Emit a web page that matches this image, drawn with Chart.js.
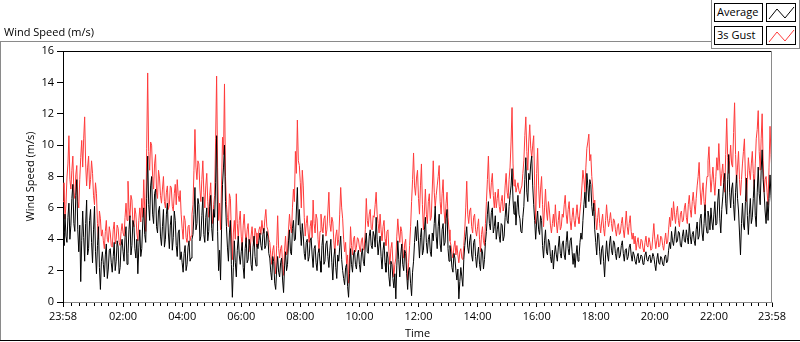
<!DOCTYPE html>
<html>
<head>
<meta charset="utf-8">
<script src="https://cdn.jsdelivr.net/npm/chart.js@4.4.0/dist/chart.umd.min.js"></script>
<style>
html,body{margin:0;padding:0;background:#fff;}
body{width:800px;height:342px;position:relative;overflow:hidden;font-family:"Open Sans",sans-serif;font-size:11px;color:#000;}
#c{position:absolute;left:0;top:0;}
.title{position:absolute;left:4px;top:24px;white-space:nowrap;}
.ln{position:absolute;}
.lgtxt{position:absolute;box-sizing:border-box;border:1px solid #000;background:#fff;height:19px;line-height:16px;padding-left:2px;white-space:nowrap;}
.lgico{position:absolute;box-sizing:border-box;border:1px solid #000;background:#fff;width:30px;height:19px;}
.lgico svg{position:absolute;left:0;top:0;}
</style>
</head>
<body>
<canvas id="c" width="800" height="342"></canvas>
<div class="title">Wind Speed (m/s)</div>
<div class="ln" style="left:0;top:41px;width:712px;height:1px;background:#8a8a8a"></div>
<div class="ln" style="left:0;top:41px;width:1px;height:300px;background:#8a8a8a"></div>
<div class="ln" style="left:0;top:340px;width:800px;height:1px;background:#000"></div>
<div class="ln" style="left:711px;top:0;width:1px;height:49px;background:#8a8a8a"></div>
<div class="ln" style="left:711px;top:48px;width:89px;height:1px;background:#8a8a8a"></div>
<div class="ln" style="left:799px;top:0;width:1px;height:49px;background:#8a8a8a"></div>
<div class="lgtxt" style="left:714px;top:3px;width:49px;">Average</div>
<div class="lgico" style="left:766px;top:3px;"><svg width="30" height="19"><polyline points="2,15 10,5 18,14 27,3" fill="none" stroke="#000" stroke-width="1"/></svg></div>
<div class="lgtxt" style="left:714px;top:26px;width:49px;">3s Gust</div>
<div class="lgico" style="left:766px;top:26px;"><svg width="30" height="19"><polyline points="2,15 10,5 18,14 27,3" fill="none" stroke="#ff3b3b" stroke-width="1"/></svg></div>
<script>
// ---- data (one sample every 2 minutes from 23:58) ----
const SAMPLE_STEP_MIN = 2;
const seriesNames = ['Average', '3s Gust'];
const averageSpeed = [
4.4,3.6,5.6,4.2,3.8,5.4,6.3,4.0,4.9,6.6,7.5,5.0,4.5,6.8,7.8,4.6,3.2,4.9,1.3,3.9,
5.8,4.1,2.6,5.0,6.5,3.0,3.4,5.2,5.9,3.8,2.5,4.6,6.1,3.2,1.8,3.6,4.8,2.2,0.8,2.6,
3.2,2.4,1.6,3.0,3.7,1.5,2.1,3.3,3.4,2.5,1.9,2.9,3.8,2.0,2.6,3.9,3.5,1.8,2.2,3.6,
4.0,3.2,2.6,4.1,4.8,2.4,3.1,4.6,5.5,3.0,3.6,5.2,4.9,3.4,2.8,4.0,1.8,3.5,4.6,2.9,
3.4,5.1,6.0,4.3,3.8,6.6,9.3,6.2,5.2,7.4,8.0,5.6,5.0,6.9,7.2,4.8,4.4,5.8,6.1,4.2,
3.6,4.8,5.9,3.5,4.0,5.6,6.3,4.4,3.4,4.9,5.5,3.3,4.1,5.8,5.2,3.6,2.9,4.4,4.6,2.7,
3.2,2.5,1.9,3.1,3.6,2.0,2.4,3.5,3.9,2.6,2.8,4.0,4.3,5.6,7.3,4.6,5.0,6.6,6.2,3.9,
4.2,5.5,6.7,4.3,3.8,5.4,6.0,3.9,4.5,6.1,6.8,4.7,3.9,5.9,5.4,7.6,10.6,4.5,2.0,3.3,
1.4,4.6,7.5,8.6,10.0,6.4,4.8,3.5,2.6,4.4,5.2,2.4,0.3,2.2,3.9,2.5,1.6,3.3,4.2,3.0,
2.4,3.2,3.8,2.2,1.5,3.4,4.1,2.5,2.7,4.0,3.6,2.4,2.0,3.5,4.2,2.9,2.3,3.7,3.4,3.9,
4.4,3.6,3.3,4.3,4.7,3.4,3.6,4.5,4.2,3.1,2.8,1.9,1.4,2.9,2.6,1.2,0.8,2.1,2.9,1.9,
1.6,2.5,2.8,1.4,0.6,2.3,3.2,2.0,2.4,3.9,4.6,3.2,3.0,4.7,5.2,3.9,4.0,5.8,7.3,4.9,
5.9,4.6,3.6,5.0,4.2,3.1,2.7,3.8,4.0,2.6,2.9,3.9,4.1,3.0,2.2,3.4,3.6,2.5,2.0,3.1,
3.4,2.6,1.9,3.6,4.3,2.4,2.6,3.7,3.9,2.9,2.2,3.3,4.0,2.5,1.4,2.8,3.4,2.2,1.5,3.0,
2.6,3.5,4.2,2.7,2.0,1.5,1.1,2.2,2.4,1.0,0.3,1.8,3.4,2.4,1.9,3.0,3.3,2.4,2.1,3.0,
3.3,2.4,1.9,3.0,3.4,2.6,2.3,3.7,4.4,3.2,3.1,4.2,4.6,3.6,3.4,4.5,4.2,3.5,5.4,4.0,
3.0,3.7,4.2,2.9,2.1,3.3,3.8,2.5,1.9,3.2,2.8,1.6,1.0,2.6,2.4,1.5,0.9,1.8,0.2,2.3,
3.9,2.7,1.6,3.0,3.7,2.4,2.0,3.3,3.1,1.8,0.8,2.0,2.2,1.2,0.4,1.9,2.6,3.8,4.8,3.9,
5.2,3.9,2.8,4.1,4.7,3.0,3.3,4.6,5.4,3.8,3.1,4.0,4.3,3.2,2.9,4.4,3.9,5.0,6.1,4.2,
3.4,4.8,5.6,3.7,3.2,4.6,5.0,3.6,3.8,5.3,5.9,3.4,2.6,3.6,3.0,2.2,1.9,3.1,2.8,2.0,
1.4,2.1,0.2,1.3,2.2,1.6,1.0,2.7,3.6,4.2,4.8,3.5,3.1,3.9,4.3,3.0,2.6,3.8,4.0,2.9,
2.2,3.0,3.5,2.4,2.0,3.4,3.2,2.1,2.7,3.8,4.5,5.6,6.4,5.0,4.6,5.7,6.0,4.4,4.8,5.5,
4.0,4.6,5.1,4.2,3.8,5.0,4.9,3.9,4.2,5.4,6.3,5.2,5.0,6.1,6.8,7.4,8.5,6.5,5.6,6.4,
4.9,6.0,6.8,5.6,5.3,4.5,4.4,5.4,6.1,7.8,9.2,7.0,6.4,8.2,7.8,8.8,9.3,7.4,6.2,5.2,
4.0,5.1,5.8,4.6,4.3,5.5,5.2,3.6,2.8,3.9,4.6,3.2,3.0,4.0,3.8,2.9,2.5,3.3,2.1,3.0,
3.6,3.0,2.6,3.5,4.2,3.1,2.8,3.7,3.9,3.0,2.7,3.8,4.5,3.4,3.0,3.9,4.1,3.2,2.4,3.1,
2.2,3.0,3.6,2.6,2.9,3.8,4.4,4.0,5.2,6.2,7.0,6.0,8.2,7.4,6.4,7.8,7.5,6.1,5.5,6.3,
4.6,3.8,3.0,4.4,4.3,3.2,2.4,3.4,3.6,2.6,1.6,3.0,3.9,3.0,2.6,3.7,4.2,3.3,3.0,3.9,
3.8,3.1,2.7,3.4,3.5,2.8,3.0,3.6,3.9,3.1,2.6,3.3,3.4,2.7,2.9,3.5,3.7,3.0,2.6,3.2,
3.0,2.6,2.4,2.9,3.1,2.5,2.7,3.0,2.9,2.4,2.5,3.0,3.2,2.7,2.6,2.9,3.0,2.5,2.7,3.1,
2.9,2.4,2.0,2.7,3.1,2.5,2.4,2.9,2.8,2.4,2.3,2.9,3.0,2.5,2.6,3.3,3.8,3.4,4.5,3.9,
3.6,4.2,4.8,3.8,3.9,4.5,4.4,3.6,3.5,4.2,4.6,3.9,3.8,4.6,4.1,3.7,5.0,4.2,3.7,4.3,
4.5,3.9,3.6,4.6,5.1,4.0,4.2,5.3,5.6,4.4,3.9,5.0,6.2,4.9,4.4,5.8,5.4,4.6,6.0,5.1,
4.6,5.6,6.4,4.9,5.0,6.5,7.2,5.3,4.4,5.9,6.7,7.6,8.2,6.3,5.6,7.8,9.4,7.0,6.0,7.2,
7.6,6.2,5.2,7.0,8.1,6.6,5.8,4.4,3.0,5.0,6.3,4.9,4.6,6.4,7.9,5.5,4.3,5.6,6.6,5.0,
5.4,6.6,7.8,5.5,4.8,7.0,8.6,6.9,6.2,8.4,9.7,7.8,7.0,5.8,5.0,6.4,5.2,6.6,8.1,6.8,
5.9
];
const gustSpeed = [
6.4,7.6,5.3,6.2,7.9,8.8,10.6,7.8,7.2,8.4,9.3,7.0,6.6,8.1,8.7,6.4,6.0,7.8,9.2,10.3,
8.6,10.4,11.8,8.8,7.4,8.6,9.3,7.2,7.8,9.0,8.2,6.8,6.2,7.6,6.9,5.0,4.0,5.8,5.3,4.2,
4.6,3.9,3.4,4.5,5.2,4.0,3.8,4.8,4.4,3.6,3.5,4.6,5.1,3.7,4.0,4.9,4.7,3.8,3.6,4.5,
5.0,4.4,4.2,5.4,6.3,5.2,7.7,6.0,5.4,6.8,6.5,5.0,4.8,6.0,5.6,4.4,3.9,5.2,6.0,5.1,
6.6,5.4,7.8,5.9,4.5,9.8,14.6,9.6,8.4,10.2,10.0,8.0,7.2,8.8,9.4,7.0,6.6,8.4,7.9,6.8,
6.3,7.2,8.0,6.4,6.0,7.0,7.4,5.9,6.2,7.4,7.3,6.1,5.8,6.9,7.5,6.2,7.8,6.8,6.4,7.1,
5.6,4.7,4.0,5.5,5.2,4.1,3.8,4.8,4.9,3.9,4.2,5.6,6.2,8.4,11.0,8.6,7.8,9.0,8.8,7.2,
6.4,7.8,9.0,7.0,6.0,7.4,8.2,6.4,5.4,6.8,7.6,5.8,5.0,6.2,6.8,10.4,14.4,8.6,5.2,6.3,
4.6,7.4,10.5,9.4,13.9,8.0,6.2,5.4,4.8,6.9,6.6,4.4,2.7,4.4,5.2,4.0,6.9,5.0,4.0,5.2,
5.8,4.2,3.4,4.9,5.6,4.4,3.8,4.6,5.0,3.8,3.2,4.2,4.8,3.9,3.6,4.7,4.4,3.5,3.9,4.6,
4.8,4.3,5.2,4.6,4.4,5.3,5.9,4.8,4.6,4.0,3.8,3.0,2.4,3.3,3.6,2.6,1.8,3.6,5.5,3.4,
2.8,3.4,3.6,2.4,1.7,3.3,4.2,3.0,3.2,4.6,5.6,4.8,4.4,6.0,7.2,6.4,9.6,8.2,11.6,9.0,
8.7,7.6,6.0,8.4,7.4,5.4,4.2,5.0,5.5,4.4,3.8,4.8,5.2,4.1,6.5,5.0,4.4,5.6,5.3,4.0,
3.2,4.5,5.6,4.8,4.4,5.3,5.5,4.2,4.6,5.8,7.0,5.0,4.5,5.4,5.1,3.9,3.1,4.2,4.6,3.6,
4.0,5.6,7.3,6.0,5.3,4.0,3.2,3.8,2.4,3.0,1.2,2.8,4.8,3.6,3.0,4.0,4.2,3.2,3.5,4.1,
4.0,3.5,3.2,3.9,4.1,3.3,3.4,4.6,6.6,5.2,4.8,5.6,5.9,4.7,4.6,5.5,5.4,6.2,7.0,5.6,
5.0,4.4,5.6,4.6,3.9,4.8,5.2,4.0,3.6,4.5,4.6,3.2,2.4,3.4,3.8,2.6,1.6,2.4,2.8,4.2,
5.3,4.4,3.8,4.8,4.5,3.4,2.8,3.7,4.0,2.6,1.4,2.5,3.6,4.8,6.4,7.8,9.5,7.4,6.8,7.9,
8.4,6.6,5.6,7.4,8.8,6.2,4.6,5.8,7.2,5.6,5.0,6.4,6.9,5.2,5.4,7.2,9.0,7.0,6.0,6.8,
7.4,8.0,8.7,6.4,5.6,6.9,7.8,5.8,5.0,6.3,7.0,5.4,4.6,3.9,3.6,3.1,2.8,3.5,3.9,3.0,
3.6,3.0,2.5,3.2,3.4,2.8,2.7,3.6,4.6,6.0,7.7,5.6,5.0,5.8,6.0,4.8,4.4,5.4,5.6,4.6,
4.2,4.8,5.3,4.0,3.2,4.3,4.8,3.9,3.6,5.0,6.4,7.8,9.3,7.2,6.6,7.6,8.2,6.8,6.0,7.0,
6.0,6.6,7.2,6.1,5.7,6.4,6.8,5.8,6.1,7.4,8.2,7.0,6.6,7.8,8.6,10.2,12.4,8.8,7.4,7.8,
7.0,7.3,7.6,7.1,6.9,7.2,7.4,8.2,9.0,10.6,11.8,9.6,8.4,10.2,11.3,9.8,9.2,10.0,10.6,7.4,
5.0,8.2,9.8,7.4,6.0,7.2,8.0,6.2,4.8,6.0,7.2,5.8,5.2,6.4,5.8,4.9,4.4,5.0,5.6,4.8,
6.2,5.1,4.4,5.2,5.8,4.6,4.8,5.6,5.4,6.2,6.8,5.6,5.0,5.9,6.4,5.2,4.6,5.4,6.0,5.2,
4.8,5.5,6.2,5.4,5.0,5.8,6.4,7.4,8.4,7.8,7.0,8.6,9.8,10.2,10.7,9.0,9.4,8.0,7.2,5.8,
6.5,5.4,4.6,5.4,6.0,5.0,4.4,5.1,5.6,4.7,4.2,5.2,6.2,5.3,4.8,5.2,5.7,5.0,4.5,5.3,
5.2,4.6,4.2,4.8,5.0,4.3,4.4,5.0,5.4,4.6,4.1,4.9,5.8,4.8,4.3,5.0,5.5,4.5,4.0,4.4,
3.7,4.2,3.3,3.8,4.1,3.5,3.4,4.0,3.9,3.4,3.2,3.8,4.2,3.6,3.5,4.1,3.8,3.3,3.4,4.2,
5.0,4.0,3.4,3.9,4.3,3.5,3.6,4.2,4.1,3.6,3.3,3.9,4.4,3.7,3.8,4.6,5.4,4.8,6.0,5.2,
6.4,5.6,5.0,5.7,6.1,5.2,4.8,5.6,5.8,5.1,5.2,6.0,6.3,5.4,5.0,6.2,6.8,5.9,5.4,6.4,
7.0,6.2,5.6,6.6,7.4,8.0,8.9,7.2,6.2,7.0,7.6,6.4,5.8,7.2,8.0,9.0,9.9,8.2,7.0,7.8,
8.6,7.6,6.8,8.0,9.2,8.4,10.1,8.6,7.4,8.2,8.8,7.6,7.0,9.4,11.7,9.2,8.2,9.0,10.0,8.8,
8.6,10.8,12.7,9.4,7.6,8.6,9.6,7.8,6.8,7.8,8.8,9.6,10.4,8.0,6.4,7.8,9.2,8.4,7.8,8.8,
9.6,8.2,7.2,8.8,10.4,11.0,12.2,9.6,8.4,10.4,12.0,9.0,7.0,7.8,8.0,7.0,6.2,8.6,11.2,9.4,
8.2
];
const xTickMinutes = [0,122,242,362,482,602,722,842,962,1082,1202,1322,1440];
const xTickLabels = ['23:58','02:00','04:00','06:00','08:00','10:00','12:00','14:00','16:00','18:00','20:00','22:00','23:58'];
const yTickValues = [0,2,4,6,8,10,12,14,16];
const axisTitles = {x:'Time', y:'Wind Speed (m/s)'};

// ---- build ----
function toPoints(arr){ return arr.map((v,i)=>({x:i*SAMPLE_STEP_MIN, y:v})); }
const minorTicks = [];
for (let m = 17; m < 1440; m += 15) { if (!xTickMinutes.some(t => Math.abs(t - m) < 3)) minorTicks.push(m); }

const FONT = {family:'"Open Sans", sans-serif', size:11};
Chart.defaults.font = FONT;
Chart.defaults.color = '#000';

const framePlugin = {
  id:'frame',
  afterDraw(chart){
    const {ctx, chartArea:a, scales} = chart;
    ctx.save();
    ctx.fillStyle = '#000';
    ctx.fillRect(a.left, a.top, a.right - a.left, 1);
    ctx.fillStyle = '#8a8a8a';
    ctx.fillRect(a.right - 1, a.top, 1, a.bottom - a.top);
    ctx.fillStyle = '#000';
    const xs = scales.x;
    minorTicks.forEach(m => {
      const px = Math.round(xs.getPixelForValue(m));
      ctx.fillRect(px, a.bottom + 1, 1, 3);
    });
    ctx.restore();
  }
};

new Chart(document.getElementById('c'), {
  type:'line',
  data:{
    datasets:[
      {label:seriesNames[0], data:toPoints(averageSpeed), borderColor:'#000', borderWidth:1, pointRadius:0, tension:0, fill:false},
      {label:seriesNames[1], data:toPoints(gustSpeed), borderColor:'#ff3b3b', borderWidth:1, pointRadius:0, tension:0, fill:false}
    ]
  },
  options:{
    responsive:false, animation:false, events:[],
    layout:{padding:{top:51, right:28, left:0, bottom:0}},
    plugins:{legend:{display:false}, tooltip:{enabled:false}},
    scales:{
      x:{
        type:'linear', min:0, max:1440,
        afterBuildTicks(s){ s.ticks = xTickMinutes.map(v=>({value:v})); },
        afterFit(s){ s.height = 40; },
        ticks:{autoSkip:false, maxRotation:0, padding:3, callback(v){ const k = xTickMinutes.indexOf(v); return k>=0 ? xTickLabels[k] : ''; }},
        grid:{drawOnChartArea:false, drawTicks:true, tickLength:5, tickColor:'#000'},
        border:{display:true, color:'#8a8a8a', width:1},
        title:{display:true, text:axisTitles.x, padding:{top:0,bottom:2}, font:FONT}
      },
      y:{
        type:'linear', min:0, max:16,
        afterBuildTicks(s){ s.ticks = yTickValues.map(v=>({value:v})); },
        afterFit(s){ s.width = 63; },
        ticks:{padding:3},
        grid:{drawOnChartArea:false, drawTicks:true, tickLength:6, tickColor:'#000'},
        border:{display:true, color:'#000', width:1},
        title:{display:true, text:axisTitles.y, padding:{top:24,bottom:0}, font:FONT}
      }
    }
  },
  plugins:[framePlugin]
});
</script>
</body>
</html>
